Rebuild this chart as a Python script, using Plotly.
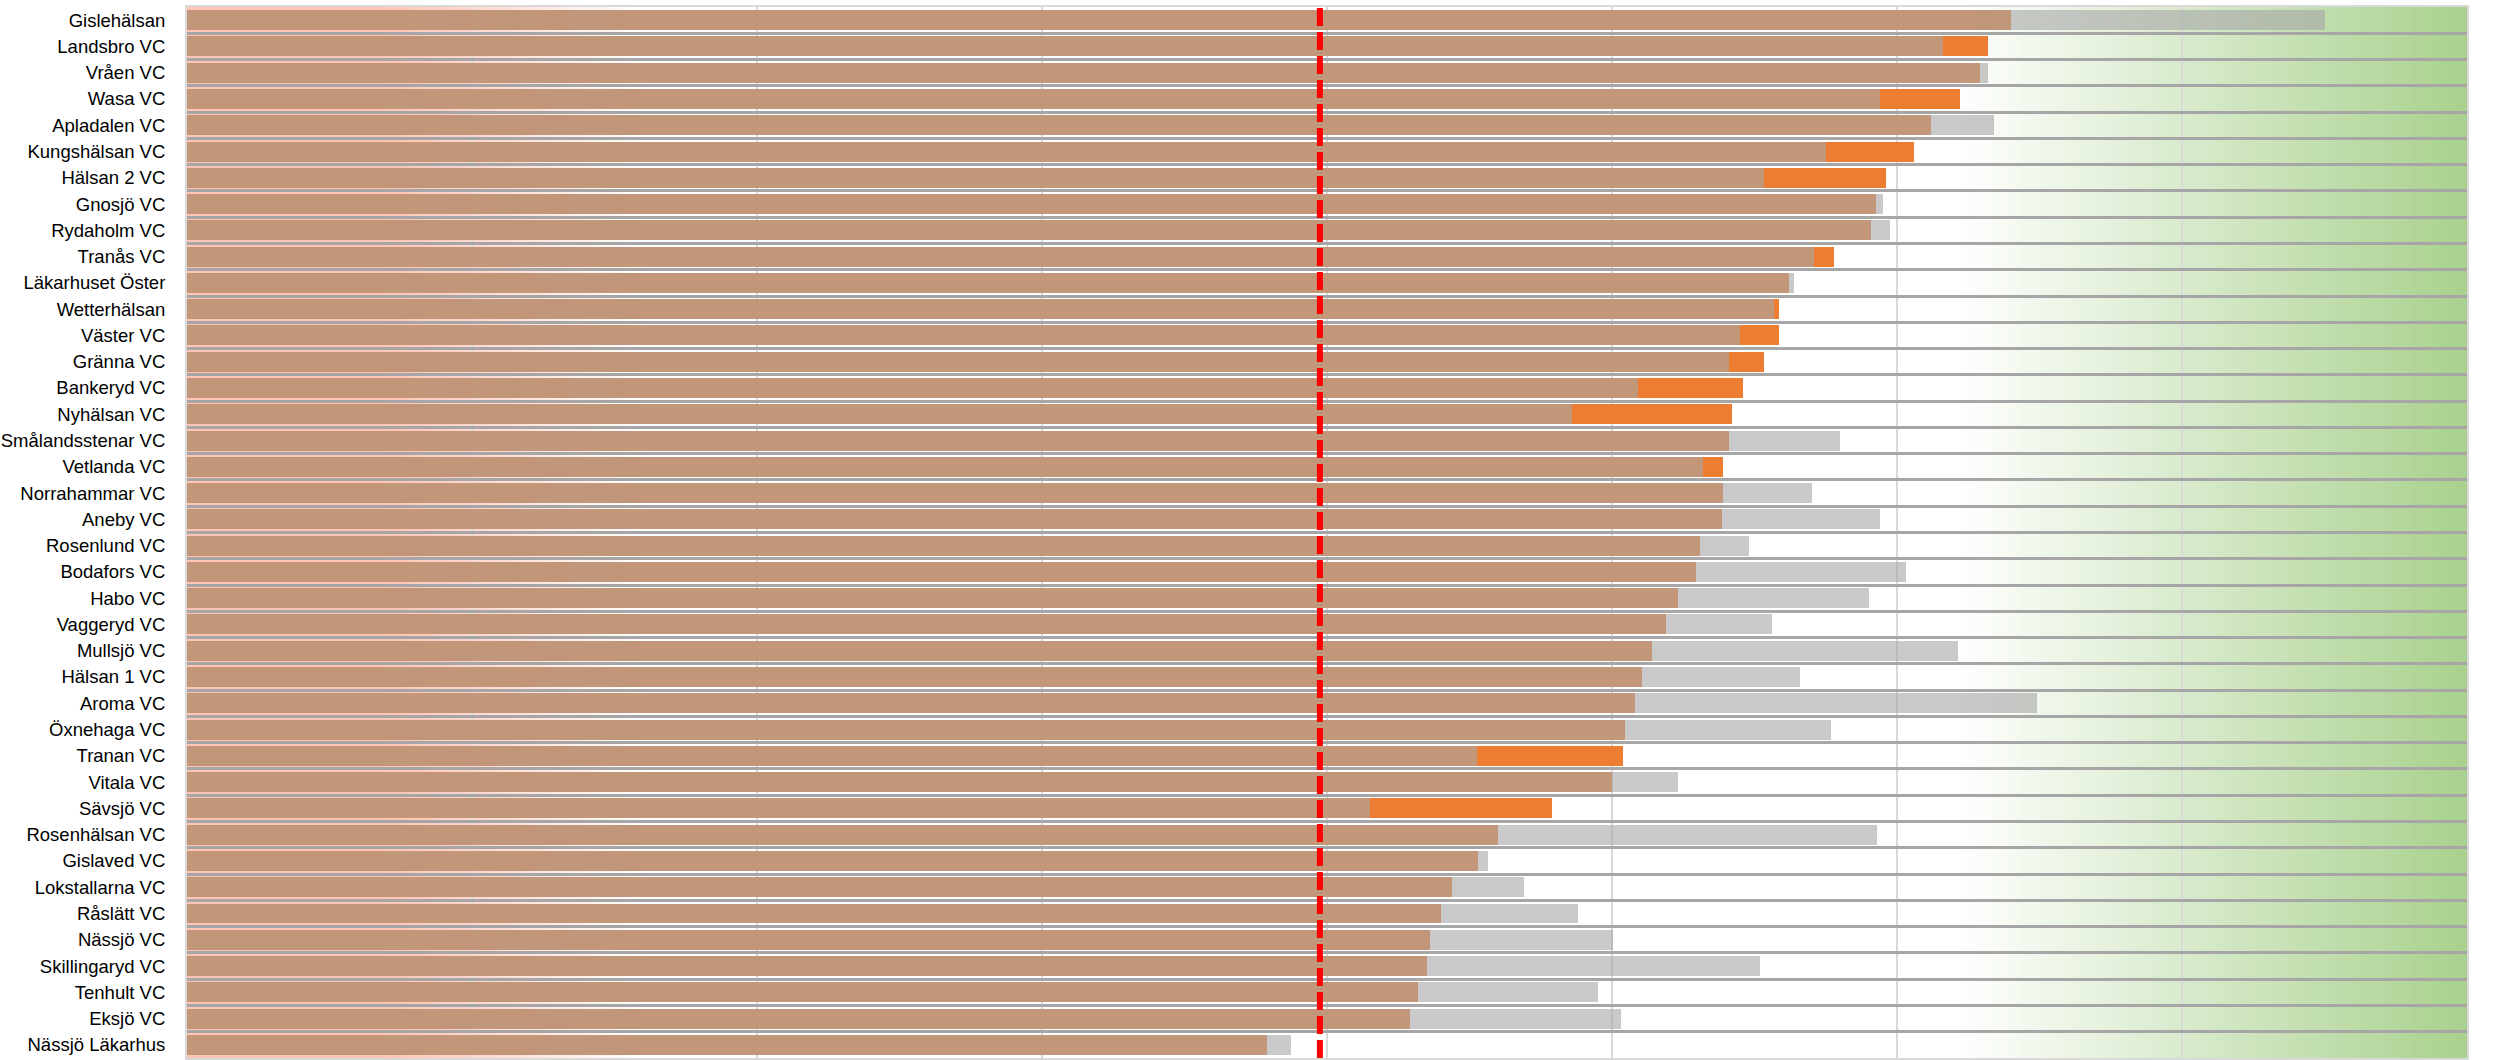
import plotly.graph_objects as go

# ---- data (x in grid units, 8 grid intervals across the plot) ----
categories = [
    "Gislehälsan", "Landsbro VC", "Vråen VC", "Wasa VC", "Apladalen VC",
    "Kungshälsan VC", "Hälsan 2 VC", "Gnosjö VC", "Rydaholm VC", "Tranås VC",
    "Läkarhuset Öster", "Wetterhälsan", "Väster VC", "Gränna VC", "Bankeryd VC",
    "Nyhälsan VC", "Smålandsstenar VC", "Vetlanda VC", "Norrahammar VC", "Aneby VC",
    "Rosenlund VC", "Bodafors VC", "Habo VC", "Vaggeryd VC", "Mullsjö VC",
    "Hälsan 1 VC", "Aroma VC", "Öxnehaga VC", "Tranan VC", "Vitala VC",
    "Sävsjö VC", "Rosenhälsan VC", "Gislaved VC", "Lokstallarna VC", "Råslätt VC",
    "Nässjö VC", "Skillingaryd VC", "Tenhult VC", "Eksjö VC", "Nässjö Läkarhus",
]

brown_end = [
    6.40, 6.16, 6.29, 5.94, 6.12,
    5.75, 5.535, 5.925, 5.91, 5.71,
    5.62, 5.57, 5.45, 5.41, 5.09,
    4.86, 5.41, 5.32, 5.39, 5.385,
    5.31, 5.295, 5.23, 5.19, 5.14,
    5.105, 5.08, 5.045, 4.525, 5.00,
    4.15, 4.60, 4.53, 4.44, 4.40,
    4.36, 4.35, 4.32, 4.29, 3.79,
]

# end of the orange segment (None = no orange segment)
orange_end = [
    None, 6.32, None, 6.22, None,
    6.06, 5.96, None, None, 5.78,
    None, 5.585, 5.585, 5.535, 5.46,
    5.42, None, 5.39, None, None,
    None, None, None, None, None,
    None, None, None, 5.04, None,
    4.79, None, None, None, None,
    None, None, None, None, None,
]

# end of the grey segment (None = no grey segment)
gray_end = [
    7.50, None, 6.32, None, 6.34,
    None, None, 5.95, 5.975, None,
    5.64, None, None, None, None,
    None, 5.80, None, 5.70, 5.94,
    5.48, 6.03, 5.90, 5.56, 6.215,
    5.66, 6.49, 5.77, None, 5.23,
    None, 5.93, 4.565, 4.69, 4.88,
    5.005, 5.52, 4.95, 5.03, 3.875,
]

TARGET = 3.975
X_MAX = 8

orange_len = [(o - b) if o is not None else 0 for o, b in zip(orange_end, brown_end)]
gray_len = [(g - b) if g is not None else 0 for g, b in zip(gray_end, brown_end)]

BROWN = "#C29679"
ORANGE = "#ED7D31"
GRAY = "rgba(165,165,165,0.6)"

fig = go.Figure()
fig.add_trace(go.Bar(y=categories, x=brown_end, orientation="h",
                     marker=dict(color=BROWN, line=dict(width=0)), name="base"))
fig.add_trace(go.Bar(y=categories, x=orange_len, orientation="h",
                     marker=dict(color=ORANGE, line=dict(width=0)), name="orange"))
fig.add_trace(go.Bar(y=categories, x=gray_len, orientation="h",
                     marker=dict(color=GRAY, line=dict(width=0)), name="grey"))

# ---- background gradients (pink on the left, green on the right) ----
shapes = []

def lerp(c0, c1, t):
    return tuple(round(a + (b - a) * t) for a, b in zip(c0, c1))

WHITE = (255, 255, 255)
PINK = (255, 196, 182)
GREEN = (169, 209, 142)

# pink: solid to 0.7, fading to white by 1.6
pink_solid, pink_white = 0.7, 1.6
shapes.append(dict(type="rect", xref="x", yref="paper", x0=0, x1=pink_solid, y0=0, y1=1,
                   fillcolor="rgb(%d,%d,%d)" % PINK, line=dict(width=0), layer="below"))
n = 40
for i in range(n):
    x0 = pink_solid + (pink_white - pink_solid) * i / n
    x1 = pink_solid + (pink_white - pink_solid) * (i + 1) / n
    c = lerp(PINK, WHITE, (i + 0.5) / n)
    shapes.append(dict(type="rect", xref="x", yref="paper", x0=x0, x1=x1 + 0.002, y0=0, y1=1,
                       fillcolor="rgb(%d,%d,%d)" % c, line=dict(width=0), layer="below"))

green_start = 6.2
n = 80
for i in range(n):
    x0 = green_start + (X_MAX - green_start) * i / n
    x1 = green_start + (X_MAX - green_start) * (i + 1) / n
    c = lerp(WHITE, GREEN, (i + 0.5) / n)
    shapes.append(dict(type="rect", xref="x", yref="paper", x0=x0, x1=x1 + 0.002, y0=0, y1=1,
                       fillcolor="rgb(%d,%d,%d)" % c, line=dict(width=0), layer="below"))

# target line
shapes.append(dict(type="line", xref="x", yref="paper", x0=TARGET, x1=TARGET, y0=0, y1=1,
                   line=dict(color="#FF0000", width=6, dash="18px,6px"), layer="above"))

fig.update_layout(
    width=2494, height=1060,
    margin=dict(l=187, r=27, t=7, b=2),
    barmode="stack", bargap=0.24,
    showlegend=False,
    plot_bgcolor="white", paper_bgcolor="white",
    shapes=shapes,
    font=dict(family="Liberation Sans, Arial, sans-serif", size=18.5, color="#000000"),
)
fig.update_xaxes(range=[0, X_MAX], dtick=1, tick0=0, showgrid=True, gridcolor="#D9D9D9",
                 gridwidth=2, zeroline=False, showticklabels=False, showline=True,
                 linecolor="#D9D9D9", linewidth=2, mirror=True)
fig.update_yaxes(type="category", categoryorder="array", categoryarray=categories,
                 autorange="reversed", tickson="boundaries", showgrid=True,
                 gridcolor="#A6A6A6", gridwidth=3, ticks="", ticklabelstandoff=16,
                 showline=True, linecolor="#D9D9D9", linewidth=2, mirror=True)

fig.write_html("out.html", config={"displayModeBar": False},
               post_script="document.body.style.margin='0';document.body.style.overflow='hidden';")
